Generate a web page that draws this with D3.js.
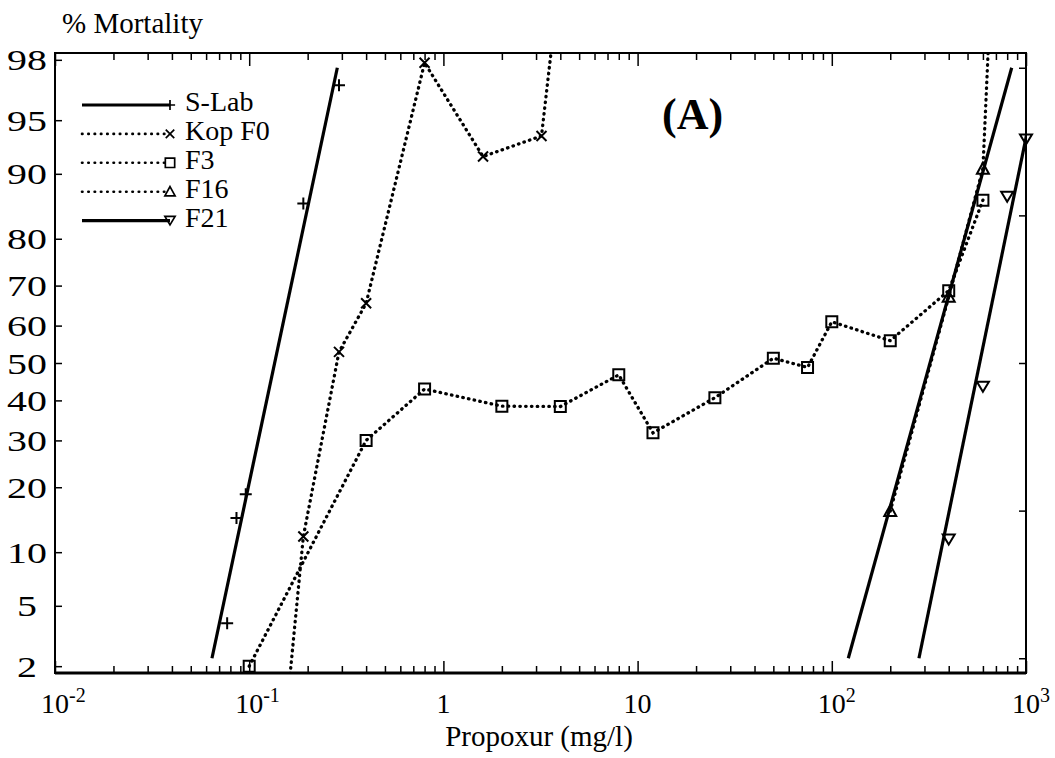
<!DOCTYPE html>
<meta charset="utf-8">
<style>
body { margin: 0; background: #fff; }
text { font-family: "Liberation Serif", "Times New Roman", serif; fill: #000; }
.frame { fill: none; stroke: #000; stroke-width: 2; }
.axis line { stroke: #000; stroke-width: 1.5; }
.fit { fill: none; stroke: #000; stroke-width: 3.2; }
.obs { fill: none; stroke: #000; stroke-width: 3.3; stroke-dasharray: 0.5 5.3; stroke-linecap: round; }
.leg-dot { fill: none; stroke: #000; stroke-width: 2.6; stroke-dasharray: 0.5 5.8; stroke-linecap: round; }
.mark { fill: none; stroke: #000; stroke-width: 2; }
</style>
<body>
<script src="https://d3js.org/d3.v7.min.js"></script>
<script>
// doses in mg/l, mortality in %
var slabDose = [0.077, 0.086, 0.096, 0.19, 0.29];
var slabMort = [3.9, 14.7, 18.7, 86, 97];
var kopDose = [0.1, 0.19, 0.29, 0.4, 0.8, 1.6, 3.2, 6.4];
var kopMort = [0, 12, 53, 65.7, 97.9, 91.9, 93.8, 100];
var f3Dose = [0.1, 0.4, 0.8, 2, 4, 8, 12, 25, 50, 75, 100, 200, 400, 600];
var f3Mort = [2, 30, 43, 38.5, 38.4, 46.8, 31.8, 40.7, 51.3, 48.8, 61, 56, 68.8, 86.5];
var f16Dose = [200, 400, 600, 800];
var f16Mort = [15.8, 67.3, 90.6, 100];
var f21Dose = [400, 600, 800, 1000];
var f21Mort = [11.6, 43.6, 87, 93.5];

// fitted probit lines, dose at the two ends
var slabFit = [0.0643, 0.2843];
var f16Fit = [121.6, 844];
var f21Fit = [281, 1186];
var fitMort = [2.275, 97.725];

var seriesNames = ["S-Lab", "Kop F0", "F3", "F16", "F21"];
var mortTicks = [2, 5, 10, 20, 30, 40, 50, 60, 70, 80, 90, 95, 98];
var probitTicks = [3, 4, 5, 6, 7];
var doseMajor = [0.01, 0.1, 1, 10, 100, 1000];
var doseLabels = [["10", "-2"], ["10", "-1"], ["1", ""], ["10", ""], ["10", "2"], ["10", "3"]];

var series = [
  {name: seriesNames[0], dose: slabDose, mort: slabMort, marker: "plus", fit: slabFit, joined: false},
  {name: seriesNames[1], dose: kopDose, mort: kopMort, marker: "cross", fit: null, joined: true},
  {name: seriesNames[2], dose: f3Dose, mort: f3Mort, marker: "square", fit: null, joined: true},
  {name: seriesNames[3], dose: f16Dose, mort: f16Mort, marker: "up", fit: f16Fit, joined: true},
  {name: seriesNames[4], dose: f21Dose, mort: f21Mort, marker: "down", fit: f21Fit, joined: false}
];

// inverse normal (Acklam)
function invNorm(p) {
  if (p <= 0) return -Infinity;
  if (p >= 1) return Infinity;
  var a = [-3.969683028665376e+01, 2.209460984245205e+02, -2.759285104469687e+02, 1.383577518672690e+02, -3.066479806614716e+01, 2.506628277459239e+00];
  var b = [-5.447609879822406e+01, 1.615858368580409e+02, -1.556989798598866e+02, 6.680131188771972e+01, -1.328068155288572e+01];
  var c = [-7.784894002430293e-03, -3.223964580411365e-01, -2.400758277161838e+00, -2.549732539343734e+00, 4.374664141464968e+00, 2.938163982698783e+00];
  var d = [7.784695709041462e-03, 3.224671290700398e-01, 2.445134137142996e+00, 3.754408661907416e+00];
  var q, r;
  if (p < 0.02425) {
    q = Math.sqrt(-2 * Math.log(p));
    return (((((c[0]*q+c[1])*q+c[2])*q+c[3])*q+c[4])*q+c[5]) / ((((d[0]*q+d[1])*q+d[2])*q+d[3])*q+1);
  }
  if (p > 1 - 0.02425) {
    q = Math.sqrt(-2 * Math.log(1 - p));
    return -(((((c[0]*q+c[1])*q+c[2])*q+c[3])*q+c[4])*q+c[5]) / ((((d[0]*q+d[1])*q+d[2])*q+d[3])*q+1);
  }
  q = p - 0.5; r = q * q;
  return (((((a[0]*r+a[1])*r+a[2])*r+a[3])*r+a[4])*r+a[5])*q / (((((b[0]*r+b[1])*r+b[2])*r+b[3])*r+b[4])*r+1);
}
// % mortality -> normal deviate, 0 and 100 pinned at +-5
function probit(m) { return Math.max(-5, Math.min(5, invNorm(m / 100))); }

var W = 1055, H = 758;
var L = 55, R = 1026, T = 53, B = 673;

var svg = d3.select("body").append("svg")
    .attr("width", W)
    .attr("height", H);

var x = d3.scaleLog().domain([0.01, 1000]).range([L, R]);
var y = d3.scaleLinear().domain([-2.1, 2.1]).range([B, T]);

svg.append("defs").append("clipPath").attr("id", "plot")
  .append("rect").attr("x", L).attr("y", T).attr("width", R - L).attr("height", B - T);

// log ticks top / bottom
var doseTicks = x.ticks();
function isMajor(d) { return Math.abs(Math.log10(d) - Math.round(Math.log10(d))) < 1e-6; }

var bottomAxis = svg.append("g").attr("class", "axis")
    .attr("transform", "translate(0," + B + ")")
    .call(d3.axisBottom(x).tickValues(doseTicks).tickFormat(""));
bottomAxis.selectAll(".tick line").attr("y2", function(d){ return isMajor(d) ? -12 : -7; });

var topAxis = svg.append("g").attr("class", "axis")
    .attr("transform", "translate(0," + T + ")")
    .call(d3.axisTop(x).tickValues(doseTicks).tickFormat(""));
topAxis.selectAll(".tick line").attr("y2", function(d){ return isMajor(d) ? 13 : 7; });

var leftAxis = svg.append("g").attr("class", "axis")
    .attr("transform", "translate(" + L + ",0)")
    .call(d3.axisLeft(y).tickValues(mortTicks.map(probit)).tickSize(-7)
      .tickFormat(function(d, i){ return mortTicks[i]; }));
leftAxis.selectAll(".tick text")
    .attr("x", 0).attr("dy", null).attr("y", 0)
    .attr("text-anchor", "middle")
    .style("font-size", "30px")
    .attr("transform", "translate(-28,10) scale(1.33,1)");

var rightAxis = svg.append("g").attr("class", "axis")
    .attr("transform", "translate(" + R + ",0)")
    .call(d3.axisRight(y).tickValues(probitTicks.map(function(p){ return p - 5; })).tickSize(-7).tickFormat(""));

svg.selectAll(".axis .domain").remove();

svg.append("rect").attr("class", "frame")
    .attr("x", L).attr("y", T).attr("width", R - L).attr("height", B - T);
svg.append("line").attr("x1", L).attr("x2", R).attr("y1", B).attr("y2", B)
    .attr("stroke", "#000").attr("stroke-width", 3);

// x tick labels with superscripts
doseMajor.forEach(function(d, i) {
  var t = svg.append("text").attr("y", 713).style("font-size", "28px");
  var base = t.append("tspan").text(doseLabels[i][0]);
  var w = base.node().getComputedTextLength();
  if (doseLabels[i][1]) {
    t.append("tspan").attr("dy", -11).style("font-size", "20px").text(doseLabels[i][1]);
  }
  t.attr("x", x(d) - w / 2);
});

svg.append("text").attr("x", 539).attr("y", 746)
    .attr("text-anchor", "middle").style("font-size", "29px")
    .text("Propoxur (mg/l)");
svg.append("text").attr("x", 62).attr("y", 33)
    .style("font-size", "29px").text("% Mortality");
svg.append("text").attr("x", 662).attr("y", 129)
    .style("font-size", "44px").style("font-weight", "bold").text("(A)");

function markerPath(type) {
  if (type === "plus") return "M-6,0H6M0,-6V6";
  if (type === "cross") return "M-5,-5L5,5M-5,5L5,-5";
  if (type === "square") return "M-5.5,-5.5H5.5V5.5H-5.5Z";
  if (type === "up") return "M0,-6L6,5H-6Z";
  return "M0,5L6,-5H-6Z";
}

var line = d3.line()
    .x(function(d){ return x(d[0]); })
    .y(function(d){ return y(probit(d[1])); });

var plot = svg.append("g").attr("clip-path", "url(#plot)");

series.forEach(function(s) {
  var pts = s.dose.map(function(d, i){ return [d, s.mort[i]]; });
  if (s.fit) {
    plot.append("path").attr("class", "fit")
        .attr("d", line([[s.fit[0], fitMort[0]], [s.fit[1], fitMort[1]]]));
  }
  if (s.joined) {
    plot.append("path").attr("class", "obs").attr("d", line(pts));
  }
});

series.forEach(function(s) {
  var pts = s.dose.map(function(d, i){ return [d, s.mort[i]]; })
      .filter(function(p){ var z = probit(p[1]); return z > -2.2 && z < 2.2; });
  svg.append("g").selectAll("path")
      .data(pts).enter().append("path")
      .attr("class", "mark")
      .attr("transform", function(p){ return "translate(" + x(p[0]) + "," + y(probit(p[1])) + ")"; })
      .attr("d", markerPath(s.marker));
});

// legend
var legend = svg.append("g");
series.forEach(function(s, i) {
  var ly = 105 + i * 28.9;
  legend.append("line")
      .attr("class", s.joined ? "leg-dot" : "fit")
      .attr("x1", 82).attr("x2", 170).attr("y1", ly).attr("y2", ly);
  legend.append("path").attr("class", "mark")
      .attr("transform", "translate(170," + ly + ") scale(0.85)")
      .attr("d", markerPath(s.marker));
  legend.append("text").attr("x", 185).attr("y", ly + 6)
      .style("font-size", "28px").text(s.name);
});
</script>
</body>
